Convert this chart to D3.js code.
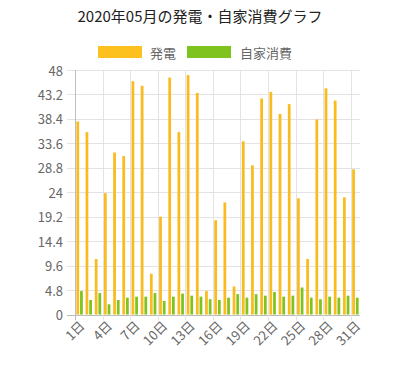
<!DOCTYPE html>
<html><head><meta charset="utf-8">
<script src="https://cdn.jsdelivr.net/npm/d3@7"></script>
<style>
html,body{margin:0;padding:0;background:#fff;}
text{font-family:"Noto Sans CJK JP","Noto Sans",sans-serif;}
</style></head>
<body><svg id="c" width="400" height="372"></svg>
<script>
const days = Array.from({length:31},(_,i)=>(i+1)+"日");
const generation = [37.9,35.8,10.9,23.8,31.8,31.1,45.8,44.9,8.0,19.2,46.5,35.8,47.0,43.5,4.6,18.5,22.0,5.5,34.0,29.3,42.4,43.7,39.4,41.3,22.8,10.9,38.3,44.4,42.0,23.0,28.5];
const selfUse = [4.6,2.85,4.2,2.0,2.85,3.3,3.5,3.5,4.2,2.65,3.5,4.1,3.7,3.5,3.0,2.85,3.3,4.0,3.3,4.0,3.7,4.4,3.5,3.7,5.3,3.3,3.0,3.5,3.3,3.7,3.3];
const yTicks = [0,4.8,9.6,14.4,19.2,24,28.8,33.6,38.4,43.2,48];
const seriesNames = ["発電","自家消費"];
const colors = ["#f9bb1e","#7fc41e"];
const title = "2020年05月の発電・自家消費グラフ";

const svg = d3.select("#c");
const L=75, R=360, T=70, B=314.5;
const x = d3.scaleBand().domain(days).range([L,R]).padding(0);
const y = d3.scaleLinear().domain([0,48]).range([B,T]);
const groupW = x.bandwidth()*0.8;
const xs = d3.scaleBand().domain(seriesNames).range([-groupW/2, groupW/2]).padding(0);
const barW = xs.bandwidth()*0.75;

svg.append("text").attr("x",200).attr("y",22).attr("text-anchor","middle")
  .attr("font-size",15).attr("fill","#222").text(title);

// legend
const leg = [{n:seriesNames[0],c:"#fcc01f",bx:98,tx:150},{n:seriesNames[1],c:colors[1],bx:187,tx:240}];
leg.forEach(d=>{
  svg.append("rect").attr("x",d.bx).attr("y",46).attr("width",44).attr("height",12).attr("fill",d.c);
  svg.append("text").attr("x",d.tx).attr("y",52).attr("dominant-baseline","central")
    .attr("font-size",13).attr("fill","#666").text(d.n);
});

// horizontal grid
const g = svg.append("g");
g.selectAll("line.h").data(yTicks).join("line")
  .attr("x1",67).attr("x2",R).attr("y1",d=>Math.round(y(d))+0.5).attr("y2",d=>Math.round(y(d))+0.5)
  .attr("stroke",d=>d===0?"#bdbdbd":"#e3e3e3").attr("stroke-width",1);
g.selectAll("text.yt").data(yTicks).join("text")
  .attr("x",63).attr("y",d=>y(d)).attr("text-anchor","end").attr("dominant-baseline","central")
  .attr("font-size",13).attr("fill","#666").text(d=>d);

// vertical grid every 3 days
const shown = days.filter((d,i)=>i%3===0);
g.selectAll("line.v").data(shown).join("line")
  .attr("x1",d=>Math.round(x(d))+0.5).attr("x2",d=>Math.round(x(d))+0.5)
  .attr("y1",T).attr("y2",B+6)
  .attr("stroke",(d,i)=>i===0?"#bdbdbd":"#e3e3e3").attr("stroke-width",1);

// bars
const data = days.map((d,i)=>({day:d, vals:[generation[i], selfUse[i]]}));
const bars = svg.append("g");
data.forEach(d=>{
  d.vals.forEach((v,j)=>{
    const cx = x(d.day)+x.bandwidth()/2 + xs(seriesNames[j]) + xs.bandwidth()/2;
    bars.append("rect").attr("x",cx-barW/2).attr("width",barW)
      .attr("y",y(v)).attr("height",y(0)-y(v)).attr("fill",colors[j]);
  });
});

// x labels
svg.append("g").selectAll("text").data(shown).join("text")
  .attr("transform",d=>`translate(${x(d)+x.bandwidth()/2+2},${323}) rotate(-45)`)
  .attr("text-anchor","end").attr("dominant-baseline","central")
  .attr("font-size",13).attr("fill","#666").text(d=>d);
</script></body></html>
